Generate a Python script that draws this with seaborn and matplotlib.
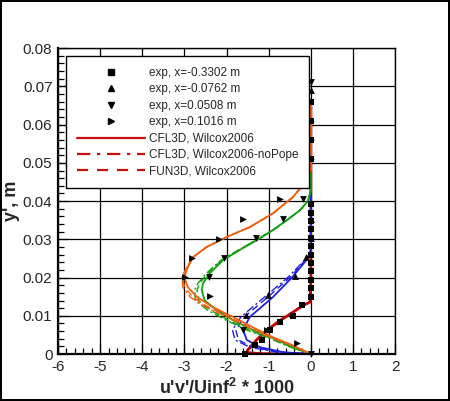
import matplotlib
matplotlib.use("Agg")
import matplotlib.pyplot as plt
from matplotlib.lines import Line2D
from matplotlib.ticker import MultipleLocator, FuncFormatter
import seaborn as sns

# CFD profiles, one per station: (u'v'/Uinf^2 * 1000, y')
red_y = [0.0, 0.0001, 0.0004, 0.001, 0.0032, 0.0058, 0.0084, 0.0107, 0.0128, 0.0136, 0.02, 0.03, 0.04, 0.05, 0.065]
red_cfl = [0.0, -1.2, -1.52, -1.50, -1.33, -1.09, -0.78, -0.46, -0.17, -0.02, 0.0, 0.0, 0.0, 0.0, 0.0]
red_nopope = [0.0, -1.2, -1.53, -1.51, -1.35, -1.11, -0.80, -0.48, -0.18, -0.02, 0.0, 0.0, 0.0, 0.0, 0.0]
red_fun = [0.0, -1.2, -1.52, -1.49, -1.32, -1.08, -0.77, -0.45, -0.16, -0.02, 0.0, 0.0, 0.0, 0.0, 0.0]

blue_y = [0.0, 0.0005, 0.0018, 0.0037, 0.0063, 0.0097, 0.0149, 0.020, 0.0253, 0.027, 0.03, 0.04, 0.05, 0.065]
blue_cfl = [0.0, -0.66, -1.21, -1.52, -1.61, -1.45, -0.90, -0.45, -0.05, 0.0, 0.0, 0.0, 0.0, 0.0]
blue_nopope = [0.0, -0.80, -1.45, -1.80, -1.86, -1.66, -1.10, -0.55, -0.08, 0.0, 0.0, 0.0, 0.0, 0.0]
blue_fun = [0.0, -0.75, -1.38, -1.72, -1.78, -1.58, -1.02, -0.50, -0.07, 0.0, 0.0, 0.0, 0.0, 0.0]

green_y = [0.0, 0.0018, 0.0042, 0.0063, 0.0089, 0.0115, 0.014, 0.0167, 0.0185, 0.0211, 0.0245, 0.0272,
           0.0298, 0.0324, 0.035, 0.0376, 0.040, 0.0428, 0.05, 0.065]
green_cfl = [0.0, -0.43, -0.90, -1.38, -1.85, -2.23, -2.52, -2.59, -2.56, -2.40, -2.09, -1.69,
             -1.28, -0.90, -0.57, -0.26, -0.07, 0.0, 0.0, 0.0]
green_nopope = [0.0, -0.48, -1.00, -1.52, -2.02, -2.45, -2.74, -2.76, -2.68, -2.48, -2.14, -1.72,
                -1.30, -0.91, -0.57, -0.26, -0.07, 0.0, 0.0, 0.0]
green_fun = [0.0, -0.46, -0.96, -1.47, -1.96, -2.38, -2.66, -2.70, -2.64, -2.45, -2.12, -1.71,
             -1.29, -0.90, -0.57, -0.26, -0.07, 0.0, 0.0, 0.0]

orange_y = [0.0, 0.0023, 0.0044, 0.007, 0.0097, 0.0123, 0.0149, 0.0175, 0.020, 0.022, 0.0253, 0.028,
            0.0306, 0.0332, 0.0368, 0.041, 0.0454, 0.0483, 0.055, 0.0655]
orange_cfl = [0.0, -0.43, -0.90, -1.38, -1.85, -2.33, -2.70, -2.92, -3.00, -2.95, -2.80, -2.47,
              -2.00, -1.45, -0.90, -0.43, -0.10, 0.0, 0.0, 0.0]
orange_nopope = [0.0, -0.47, -0.98, -1.50, -2.00, -2.50, -2.86, -3.04, -3.06, -2.98, -2.81, -2.48,
                 -2.00, -1.45, -0.90, -0.43, -0.10, 0.0, 0.0, 0.0]
orange_fun = [0.0, -0.45, -0.95, -1.45, -1.94, -2.44, -2.80, -3.00, -3.04, -2.97, -2.80, -2.47,
              -2.00, -1.45, -0.90, -0.43, -0.10, 0.0, 0.0, 0.0]

# experimental data
sq_x = [-1.57, -1.33, -1.17, -0.97, -0.74, -0.43, -0.22, 0, 0, 0, 0, 0, 0, 0, 0, 0, 0, 0, 0, 0, 0, 0, 0]
sq_y = [0.0, 0.0023, 0.0038, 0.0063, 0.0084, 0.0099, 0.0128, 0.0150, 0.0172, 0.0194, 0.0216, 0.0238,
        0.0260, 0.0282, 0.0304, 0.0326, 0.0348, 0.0370, 0.0392, 0.051, 0.056, 0.061, 0.066]
up_x = [-1.55, -1.01, -0.38, -0.12, 0, 0, 0.0]
up_y = [0.0102, 0.0154, 0.0204, 0.0253, 0.0304, 0.0354, 0.069]
dn_x = [0.0, -1.62, -2.42, -2.07, -1.31, -0.66, -0.18, 0.0]
dn_y = [0.0, 0.0063, 0.0202, 0.0252, 0.0303, 0.0354, 0.0406, 0.0711]
rt_x = [-0.34, -1.05, -2.40, -2.99, -2.82, -2.18, -1.61, -0.74, -0.14, 0, 0, 0]
rt_y = [0.0028, 0.0063, 0.0151, 0.0202, 0.0252, 0.0302, 0.0354, 0.0406, 0.0463, 0.051, 0.056, 0.061]

sns.set_style("white")
plt.rcParams["font.family"] = ["Liberation Sans", "DejaVu Sans"]
plt.rcParams["mathtext.fontset"] = "custom"
plt.rcParams["mathtext.bf"] = "Liberation Sans:bold"
plt.rcParams["mathtext.rm"] = "Liberation Sans"
plt.rcParams["axes.unicode_minus"] = False

fig = plt.figure(figsize=(4.5, 4.01), dpi=100)
fig.patch.set_edgecolor("black")
fig.patch.set_linewidth(1.5)
ax = fig.add_axes([0.129, 0.117, 0.749, 0.763])

colors = {"red": "#c00000", "blue": "#2020e0", "green": "#10a010", "orange": "#f06010"}
dashdot = (0, (6, 2, 1.5, 2))
dashed = (0, (5, 3))
series = [
    ("red", red_y, red_cfl, red_nopope, red_fun),
    ("blue", blue_y, blue_cfl, blue_nopope, blue_fun),
    ("green", green_y, green_cfl, green_nopope, green_fun),
    ("orange", orange_y, orange_cfl, orange_nopope, orange_fun),
]
for name, ys, cfl, nopope, fun in series:
    c = colors[name]
    lw = 2.0 if name == "red" else 1.3
    sns.lineplot(x=nopope, y=ys, sort=False, estimator=None, ax=ax, color=c, lw=1.0, linestyle=dashdot)
    sns.lineplot(x=fun, y=ys, sort=False, estimator=None, ax=ax, color=c, lw=1.0, linestyle=dashed)
    sns.lineplot(x=cfl, y=ys, sort=False, estimator=None, ax=ax, color=c, lw=lw)

mk = dict(color="black", edgecolor="black", s=24, linewidth=0, ax=ax, zorder=5, clip_on=False)
sns.scatterplot(x=sq_x, y=sq_y, marker="s", **mk)
sns.scatterplot(x=up_x, y=up_y, marker="^", **mk)
sns.scatterplot(x=dn_x, y=dn_y, marker="v", **mk)
sns.scatterplot(x=rt_x, y=rt_y, marker=">", **mk)

ax.xaxis.set_major_locator(MultipleLocator(1))
ax.xaxis.set_minor_locator(MultipleLocator(0.2))
ax.yaxis.set_major_locator(MultipleLocator(0.01))
ax.yaxis.set_minor_locator(MultipleLocator(0.002))
ax.yaxis.set_major_formatter(FuncFormatter(lambda v, p: "0" if abs(v) < 1e-9 else f"{v:.2f}"))
ax.set_xlim(-6, 2)
ax.set_ylim(0, 0.08)
ax.grid(True, which="major", color="black", lw=0.9)
ax.set_axisbelow(True)
ax.tick_params(which="both", direction="in", bottom=True, left=True, top=False, right=False,
               labelsize=11, width=0.9, color="black")
ax.tick_params(which="major", length=7, pad=4)
ax.tick_params(which="minor", length=4)
for sp in ax.spines.values():
    sp.set_color("black")
    sp.set_linewidth(1.0)
for sp in ["left", "bottom"]:
    ax.spines[sp].set_linewidth(1.6)

ax.set_xlabel(r"u'v'/Uinf$^\mathbf{2}$ * 1000", fontsize=13, fontweight="bold", labelpad=3)
ax.set_ylabel("y', m", fontsize=13, fontweight="bold", labelpad=2)

handles = [
    Line2D([], [], color="black", marker="s", linestyle="none", markersize=5),
    Line2D([], [], color="black", marker="^", linestyle="none", markersize=5),
    Line2D([], [], color="black", marker="v", linestyle="none", markersize=5),
    Line2D([], [], color="black", marker=">", linestyle="none", markersize=5),
    Line2D([], [], color="#c81010", lw=1.6),
    Line2D([], [], color="#c81010", lw=1.6, linestyle=(0, (6, 3, 1.5, 3))),
    Line2D([], [], color="#c81010", lw=1.6, linestyle=(0, (5, 4))),
]
labels = ["exp, x=-0.3302 m", "exp, x=-0.0762 m", "exp, x=0.0508 m", "exp, x=0.1016 m",
          "CFL3D, Wilcox2006", "CFL3D, Wilcox2006-noPope", "FUN3D, Wilcox2006"]
leg = ax.legend(handles, labels, loc="upper left", bbox_to_anchor=(0.024, 0.974), borderaxespad=0,
                fontsize=8.5, handlelength=5.8, handletextpad=0.3, labelspacing=0.38,
                borderpad=0.9, fancybox=False, framealpha=1, edgecolor="black")
leg.get_frame().set_linewidth(1.0)

fig.savefig("out.png", dpi=100, edgecolor=fig.get_edgecolor())
